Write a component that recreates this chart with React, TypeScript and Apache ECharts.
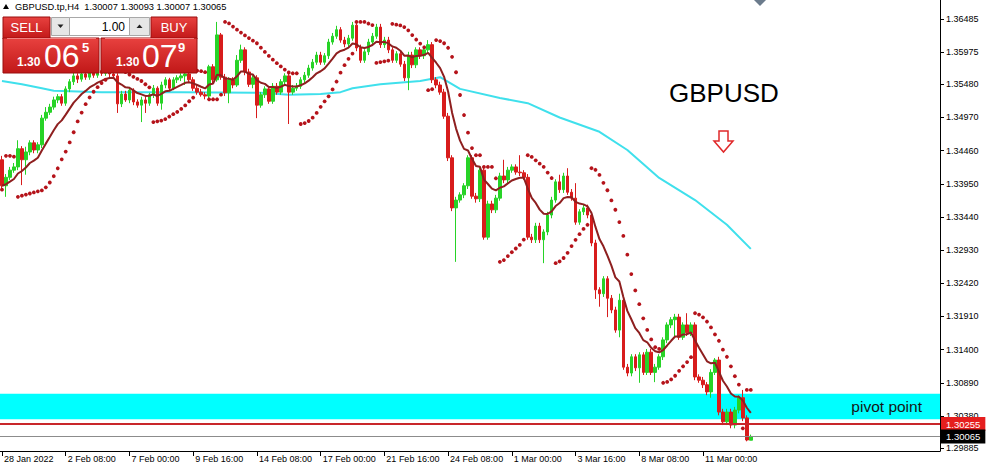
import React, { useEffect, useRef } from "react";
import * as echarts from "echarts";

const FONT = '"Liberation Sans", Arial, sans-serif';

// ---- OHLC (H4 bars from 28 Jan 2022 16:00) ----
const barOpen = [1.3432,1.3392,1.3405,1.3416,1.3421,1.3449,1.3432,1.3444,1.3458,1.3447,
1.3455,1.3496,1.3505,1.3513,1.3524,1.3529,1.3519,1.3541,1.3552,1.3561,
1.3556,1.3564,1.3559,1.3567,1.3562,1.3569,1.3565,1.3570,1.3564,1.3561,
1.3518,1.3533,1.3524,1.3539,1.3521,1.3516,1.3524,1.3519,1.3532,1.3542,
1.3519,1.3547,1.3555,1.3542,1.3555,1.3558,1.3561,1.3564,1.3555,1.3542,
1.3536,1.3532,1.3530,1.3575,1.3555,1.3624,1.3559,1.3535,1.3555,1.3547,
1.3585,1.3601,1.3567,1.3548,1.3558,1.3516,1.3532,1.3541,1.3522,1.3545,
1.3536,1.3552,1.3561,1.3536,1.3542,1.3545,1.3555,1.3562,1.3573,1.3582,
1.3593,1.3582,1.3592,1.3613,1.3622,1.3632,1.3616,1.3610,1.3619,1.3639,
1.3604,1.3585,1.3598,1.3613,1.3622,1.3636,1.3609,1.3616,1.3601,1.3585,
1.3595,1.3579,1.3558,1.3593,1.3578,1.3601,1.3592,1.3601,1.3609,1.3555,
1.3547,1.3536,1.3499,1.3435,1.3358,1.3370,1.3378,1.3392,1.3435,1.3376,
1.3372,1.3416,1.3313,1.3364,1.3355,1.3373,1.3407,1.3401,1.3416,1.3421,
1.3413,1.3412,1.3405,1.3313,1.3309,1.3330,1.3309,1.3321,1.3347,1.3370,
1.3398,1.3386,1.3407,1.3382,1.3373,1.3336,1.3352,1.3358,1.3347,1.3304,
1.3232,1.3226,1.3249,1.3219,1.3201,1.3170,1.3216,1.3113,1.3104,1.3129,
1.3112,1.3132,1.3105,1.3136,1.3105,1.3113,1.3129,1.3155,1.3178,1.3186,
1.3190,1.3159,1.3178,1.3166,1.3178,1.3098,1.3093,1.3086,1.3075,1.3105,
1.3124,1.3044,1.3029,1.3044,1.3024,1.3047,1.3066,1.3035,1.30007];

const barClose = [1.3392,1.3405,1.3416,1.3421,1.3449,1.3432,1.3444,1.3458,1.3447,1.3455,
1.3496,1.3505,1.3513,1.3524,1.3529,1.3519,1.3541,1.3552,1.3561,1.3556,
1.3564,1.3559,1.3567,1.3562,1.3569,1.3565,1.3570,1.3564,1.3561,1.3518,
1.3533,1.3524,1.3539,1.3521,1.3516,1.3524,1.3519,1.3532,1.3542,1.3519,
1.3547,1.3555,1.3542,1.3555,1.3558,1.3561,1.3564,1.3555,1.3542,1.3536,
1.3532,1.3530,1.3575,1.3555,1.3624,1.3559,1.3535,1.3555,1.3547,1.3585,
1.3601,1.3567,1.3548,1.3558,1.3516,1.3532,1.3541,1.3522,1.3545,1.3536,
1.3552,1.3561,1.3536,1.3542,1.3545,1.3555,1.3562,1.3573,1.3582,1.3593,
1.3582,1.3592,1.3613,1.3622,1.3632,1.3616,1.3610,1.3619,1.3639,1.3604,
1.3585,1.3598,1.3613,1.3622,1.3636,1.3609,1.3616,1.3601,1.3585,1.3595,
1.3579,1.3558,1.3593,1.3578,1.3601,1.3592,1.3601,1.3609,1.3555,1.3547,
1.3536,1.3499,1.3435,1.3358,1.3370,1.3378,1.3392,1.3435,1.3376,1.3372,
1.3416,1.3313,1.3364,1.3355,1.3373,1.3407,1.3401,1.3416,1.3421,1.3413,
1.3412,1.3405,1.3313,1.3309,1.3330,1.3309,1.3321,1.3347,1.3370,1.3398,
1.3386,1.3407,1.3382,1.3373,1.3336,1.3352,1.3358,1.3347,1.3304,1.3232,
1.3226,1.3249,1.3219,1.3201,1.3170,1.3216,1.3113,1.3104,1.3129,1.3112,
1.3132,1.3105,1.3136,1.3105,1.3113,1.3129,1.3155,1.3178,1.3186,1.3190,
1.3159,1.3178,1.3166,1.3178,1.3098,1.3093,1.3086,1.3075,1.3105,1.3124,
1.3044,1.3029,1.3044,1.3024,1.3047,1.3066,1.3035,1.3001,1.30065];

const barHigh = [1.3438,1.3410,1.3421,1.3427,1.3462,1.3453,1.3452,1.3462,1.3462,1.3459,
1.3501,1.3513,1.3518,1.3529,1.3533,1.3533,1.3545,1.3556,1.3567,1.3565,
1.3569,1.3569,1.3572,1.3570,1.3575,1.3572,1.3576,1.3573,1.3570,1.3565,
1.3538,1.3538,1.3544,1.3542,1.3525,1.3529,1.3529,1.3535,1.3547,1.3545,
1.3552,1.3559,1.3558,1.3559,1.3562,1.3565,1.3569,1.3569,1.3559,1.3547,
1.3541,1.3536,1.3578,1.3579,1.3644,1.3627,1.3564,1.3559,1.3559,1.3593,
1.3609,1.3605,1.3572,1.3562,1.3562,1.3536,1.3545,1.3545,1.3550,1.3550,
1.3556,1.3565,1.3565,1.3547,1.3550,1.3559,1.3567,1.3578,1.3587,1.3598,
1.3598,1.3596,1.3618,1.3627,1.3638,1.3636,1.3621,1.3624,1.3644,1.3644,
1.3609,1.3602,1.3618,1.3627,1.3641,1.3641,1.3621,1.3621,1.3605,1.3599,
1.3599,1.3584,1.3598,1.3598,1.3605,1.3605,1.3605,1.3616,1.3613,1.3559,
1.3552,1.3541,1.3504,1.3439,1.3375,1.3382,1.3396,1.3439,1.3439,1.3381,
1.3421,1.3421,1.3369,1.3369,1.3378,1.3412,1.3432,1.3421,1.3425,1.3425,
1.3439,1.3416,1.3410,1.3318,1.3335,1.3335,1.3325,1.3352,1.3375,1.3402,
1.3409,1.3412,1.3419,1.3387,1.3396,1.3356,1.3363,1.3363,1.3352,1.3309,
1.3236,1.3253,1.3253,1.3224,1.3206,1.3226,1.3221,1.3118,1.3133,1.3133,
1.3136,1.3136,1.3141,1.3141,1.3118,1.3133,1.3159,1.3182,1.3190,1.3195,
1.3195,1.3182,1.3196,1.3182,1.3182,1.3102,1.3098,1.3090,1.3110,1.3127,
1.3129,1.3049,1.3049,1.3049,1.3052,1.3070,1.3078,1.3039,1.30093];

const barLow = [1.3386,1.3375,1.3401,1.3412,1.3416,1.3393,1.3409,1.3439,1.3442,1.3442,
1.3450,1.3492,1.3501,1.3509,1.3519,1.3515,1.3515,1.3536,1.3547,1.3550,
1.3552,1.3555,1.3555,1.3558,1.3558,1.3561,1.3561,1.3559,1.3556,1.3504,
1.3513,1.3521,1.3519,1.3516,1.3512,1.3490,1.3504,1.3515,1.3527,1.3515,
1.3509,1.3542,1.3538,1.3539,1.3550,1.3553,1.3547,1.3550,1.3538,1.3532,
1.3529,1.3525,1.3525,1.3548,1.3552,1.3555,1.3530,1.3519,1.3542,1.3544,
1.3581,1.3562,1.3544,1.3542,1.3496,1.3512,1.3527,1.3518,1.3518,1.3532,
1.3532,1.3547,1.3487,1.3532,1.3538,1.3541,1.3550,1.3558,1.3569,1.3578,
1.3578,1.3578,1.3587,1.3609,1.3618,1.3612,1.3605,1.3605,1.3615,1.3599,
1.3581,1.3581,1.3593,1.3609,1.3618,1.3604,1.3604,1.3596,1.3581,1.3581,
1.3575,1.3553,1.3539,1.3573,1.3573,1.3587,1.3587,1.3596,1.3550,1.3542,
1.3532,1.3495,1.3430,1.3353,1.3275,1.3366,1.3373,1.3387,1.3372,1.3366,
1.3367,1.3309,1.3309,1.3350,1.3350,1.3369,1.3396,1.3396,1.3412,1.3409,
1.3407,1.3401,1.3309,1.3304,1.3304,1.3304,1.3273,1.3316,1.3342,1.3366,
1.3381,1.3381,1.3378,1.3369,1.3332,1.3332,1.3347,1.3342,1.3299,1.3218,
1.3206,1.3221,1.3190,1.3196,1.3166,1.3159,1.3109,1.3099,1.3099,1.3107,
1.3089,1.3101,1.3101,1.3101,1.3090,1.3109,1.3124,1.3150,1.3173,1.3159,
1.3155,1.3155,1.3161,1.3161,1.3093,1.3089,1.3081,1.3070,1.3066,1.3101,
1.3039,1.3024,1.3024,1.3019,1.3019,1.3042,1.3030,1.2999,1.30007];

// slow moving average (cyan), read at sample bars
const slowMaBar = [0, 5, 10, 13, 25, 45, 65, 72, 80, 85, 88, 95, 105, 110, 115, 125, 132, 140, 150, 157, 165, 174, 182, 188];
const slowMaVal = [1.3553, 1.3548, 1.3542, 1.3538, 1.3536, 1.3536, 1.3535, 1.3532, 1.3533, 1.3536, 1.3542, 1.3548, 1.3553, 1.3559, 1.3541, 1.3527, 1.3519, 1.3497, 1.3475, 1.3447, 1.3404, 1.3370, 1.3332, 1.3295];

const yTickValues = [1.36485, 1.35975, 1.3548, 1.3497, 1.3446, 1.3395, 1.3344, 1.3293, 1.3242, 1.3191, 1.314, 1.3089, 1.3038, 1.29885];
const xTickLabels = ["28 Jan 2022", "2 Feb 08:00", "7 Feb 00:00", "9 Feb 16:00", "14 Feb 08:00", "17 Feb 00:00", "21 Feb 16:00", "24 Feb 08:00", "1 Mar 00:00", "3 Mar 16:00", "8 Mar 08:00", "11 Mar 00:00"];

const pivotBand = [1.3072, 1.3033];
const levelLine = 1.30255;
const bidLine = 1.30065;

const Y_MAX = 1.36777;
const Y_MIN = 1.29841;
const SLOTS = 236;
const LABEL_STEP = 16;

const MON = ["Jan", "Feb", "Mar", "Apr"];
function buildSlots(n: number): string[] {
  const out: string[] = [];
  let t = Date.UTC(2022, 0, 28, 16);
  while (out.length < n) {
    const d = new Date(t);
    const wd = d.getUTCDay();
    if (wd !== 0 && wd !== 6) {
      const hh = String(d.getUTCHours()).padStart(2, "0");
      out.push(`${d.getUTCDate()} ${MON[d.getUTCMonth()]} ${hh}:00`);
    }
    t += 4 * 3600 * 1000;
  }
  return out;
}

function ema(vals: number[], n: number): number[] {
  const k = 2 / (n + 1);
  const out: number[] = [];
  let e = vals[0];
  vals.forEach((v, i) => {
    e = i === 0 ? v : v * k + e * (1 - k);
    out.push(+e.toFixed(5));
  });
  return out;
}

function parabolicSar(high: number[], low: number[], step: number, maxStep: number): number[] {
  const out: number[] = [];
  let long = true, af = step, ep = high[0], sar = low[0];
  out.push(sar);
  for (let i = 1; i < high.length; i++) {
    let next = sar + af * (ep - sar);
    if (long) {
      next = Math.min(next, low[i - 1], low[Math.max(i - 2, 0)]);
      if (low[i] < next) { long = false; next = ep; ep = low[i]; af = step; }
      else if (high[i] > ep) { ep = high[i]; af = Math.min(af + step, maxStep); }
    } else {
      next = Math.max(next, high[i - 1], high[Math.max(i - 2, 0)]);
      if (high[i] > next) { long = true; next = ep; ep = high[i]; af = step; }
      else if (low[i] < ep) { ep = low[i]; af = Math.min(af + step, maxStep); }
    }
    sar = next;
    out.push(+sar.toFixed(5));
  }
  return out;
}

const GREEN = "#27d327";
const RED = "#d81c1c";
const redFill = {
  type: "linear", x: 0, y: 0, x2: 0, y2: 1,
  colorStops: [{ offset: 0, color: "#e8413f" }, { offset: 1, color: "#c11818" }],
};

function buildOption() {
  const slots = buildSlots(SLOTS);
  const candles = barOpen.map((o, i) => [o, barClose[i], barLow[i], barHigh[i]]);
  const fastMa = ema(barClose, 10);
  const sar = parabolicSar(barHigh, barLow, 0.02, 0.2).map((v, i) => [i, v]);
  const slowMa = slowMaBar.map((b, i) => [b, slowMaVal[i]]);
  const showTick = (i: number) => i % LABEL_STEP === 0 && i / LABEL_STEP < xTickLabels.length;

  const txt = (text: string, x: number, y: number, font: string, fill: string, align = "left") => ({
    type: "text", x, y, z: 100,
    style: { text, font, fill, textAlign: align, textVerticalAlign: "middle" },
  });

  const graphics: any[] = [
    { type: "polygon", z: 100, shape: { points: [[3, 9], [9, 9], [6, 4]] }, style: { fill: "#000" } },
    txt("GBPUSD.tp,H4  1.30007 1.30093 1.30007 1.30065", 15, 7, `9.3px ${FONT}`, "#000"),
    // one-click panel
    { type: "rect", z: 100, shape: { x: 3, y: 17, width: 47, height: 22 }, style: { fill: redFill, stroke: "#9a0e0e", lineWidth: 1 } },
    { type: "rect", z: 100, shape: { x: 3, y: 38, width: 96, height: 35 }, style: { fill: redFill, stroke: "#9a0e0e", lineWidth: 1 } },
    { type: "rect", z: 100, shape: { x: 151, y: 17, width: 46, height: 22 }, style: { fill: redFill, stroke: "#9a0e0e", lineWidth: 1 } },
    { type: "rect", z: 100, shape: { x: 101, y: 38, width: 96, height: 35 }, style: { fill: redFill, stroke: "#9a0e0e", lineWidth: 1 } },
    { type: "line", z: 101, shape: { x1: 7, y1: 38.5, x2: 96, y2: 38.5 }, style: { stroke: "#f28080", lineWidth: 1 } },
    { type: "line", z: 101, shape: { x1: 105, y1: 38.5, x2: 194, y2: 38.5 }, style: { stroke: "#f28080", lineWidth: 1 } },
    txt("SELL", 26.5, 27.5, `13px ${FONT}`, "#fff", "center"),
    txt("BUY", 174, 27.5, `13px ${FONT}`, "#fff", "center"),
    { type: "rect", z: 100, shape: { x: 51.5, y: 17.5, width: 18, height: 18 }, style: { fill: "#e6e6e6", stroke: "#a8a8a8", lineWidth: 1 } },
    { type: "polygon", z: 101, shape: { points: [[57.5, 24.5], [63.5, 24.5], [60.5, 28]] }, style: { fill: "#222" } },
    { type: "rect", z: 100, shape: { x: 69.5, y: 17.5, width: 60, height: 18 }, style: { fill: "#fff", stroke: "#a8a8a8", lineWidth: 1 } },
    txt("1.00", 125, 26.5, `12px ${FONT}`, "#000", "right"),
    { type: "rect", z: 100, shape: { x: 129.5, y: 17.5, width: 20, height: 18 }, style: { fill: "#e6e6e6", stroke: "#a8a8a8", lineWidth: 1 } },
    { type: "polygon", z: 101, shape: { points: [[136.5, 28], [142.5, 28], [139.5, 24.5]] }, style: { fill: "#222" } },
    txt("1.30", 17, 62, `bold 12px ${FONT}`, "#fff"),
    txt("06", 44, 56, `32px ${FONT}`, "#fff"),
    txt("5", 82, 47.5, `bold 13px ${FONT}`, "#fff"),
    txt("1.30", 116, 62, `bold 12px ${FONT}`, "#fff"),
    txt("07", 142, 56, `32px ${FONT}`, "#fff"),
    txt("9", 178, 47.5, `bold 13px ${FONT}`, "#fff"),
    // annotations
    txt("GBPUSD", 669, 93, `26px ${FONT}`, "#000"),
    {
      type: "polygon", z: 100,
      shape: { points: [[719, 131], [728, 131], [728, 141], [733, 141], [723.5, 152], [714, 141], [719, 141]] },
      style: { fill: "none", stroke: "#e0282a", lineWidth: 1.5 },
    },
    { type: "polygon", z: 100, shape: { points: [[754, 0], [766, 0], [760, 6]] }, style: { fill: "#6b7b8c" } },
  ];

  const priceLabel = (bg: string) => ({
    show: true, position: "end", distance: 1,
    formatter: (p: any) => Number(p.value).toFixed(5),
    backgroundColor: bg, color: "#fff", padding: [2, 5, 2, 5],
    fontSize: 9.5, fontFamily: FONT,
  });

  return {
    animation: false,
    backgroundColor: "#ffffff",
    textStyle: { fontFamily: FONT },
    grid: { left: -3, right: 48, top: 0, bottom: 20, containLabel: false },
    xAxis: {
      type: "category",
      data: slots,
      boundaryGap: true,
      axisLine: { show: true, lineStyle: { color: "#000", width: 1 } },
      axisTick: { show: true, alignWithLabel: true, interval: showTick, length: 5, lineStyle: { color: "#000" } },
      axisLabel: {
        interval: showTick,
        formatter: (_v: string, i: number) => xTickLabels[i / LABEL_STEP] ?? "",
        align: "left", padding: [0, 0, 0, 2], margin: 3,
        fontSize: 9, color: "#000", fontFamily: FONT,
      },
      splitLine: { show: false },
    },
    yAxis: {
      type: "value",
      position: "right",
      min: Y_MIN,
      max: Y_MAX,
      axisLine: { show: true, lineStyle: { color: "#000", width: 1 } },
      axisTick: { show: true, customValues: yTickValues, length: 4, lineStyle: { color: "#000" } },
      axisLabel: {
        customValues: yTickValues,
        formatter: (v: number) => v.toFixed(5),
        fontSize: 9, color: "#000", margin: 6, fontFamily: FONT,
      },
      splitLine: { show: false },
    },
    series: [
      {
        name: "MA slow",
        type: "line",
        data: slowMa,
        showSymbol: false,
        z: 1,
        silent: true,
        lineStyle: { color: "#3fe0ec", width: 2 },
        markArea: {
          silent: true,
          itemStyle: { color: "#00ffff", opacity: 1 },
          label: {
            show: true, position: "insideRight", distance: 18,
            formatter: "pivot point", fontSize: 15.5, color: "#151515", fontFamily: FONT,
          },
          data: [[{ yAxis: pivotBand[0] }, { yAxis: pivotBand[1] }]],
        },
      },
      {
        name: "GBPUSD",
        type: "candlestick",
        data: candles,
        barWidth: 3,
        z: 2,
        itemStyle: { color: GREEN, color0: RED, borderColor: GREEN, borderColor0: RED, borderWidth: 1 },
        markLine: {
          silent: true,
          precision: 5,
          symbol: ["none", "none"],
          data: [
            { yAxis: levelLine, lineStyle: { color: "#c8262a", width: 2, type: "solid" }, label: priceLabel("#e51e1e") },
            { yAxis: bidLine, lineStyle: { color: "#8c8c8c", width: 1, type: "solid" }, label: priceLabel("#000") },
          ],
        },
      },
      {
        name: "MA fast",
        type: "line",
        data: fastMa,
        showSymbol: false,
        z: 3,
        lineStyle: { color: "#8e1f1f", width: 2 },
      },
      {
        name: "SAR",
        type: "scatter",
        data: sar,
        symbol: "circle",
        symbolSize: 3.8,
        z: 4,
        itemStyle: { color: "#b5131a", opacity: 1 },
      },
    ],
    graphic: { elements: graphics },
  };
}

export default function App() {
  const ref = useRef<HTMLDivElement>(null);
  useEffect(() => {
    if (!ref.current) return;
    const chart = echarts.init(ref.current, null, { renderer: "svg" });
    chart.setOption(buildOption() as any);
    return () => chart.dispose();
  }, []);
  return (
    <div
      ref={ref}
      style={{ position: "absolute", left: 0, top: 0, width: 988, height: 471, background: "#fff" }}
    />
  );
}
